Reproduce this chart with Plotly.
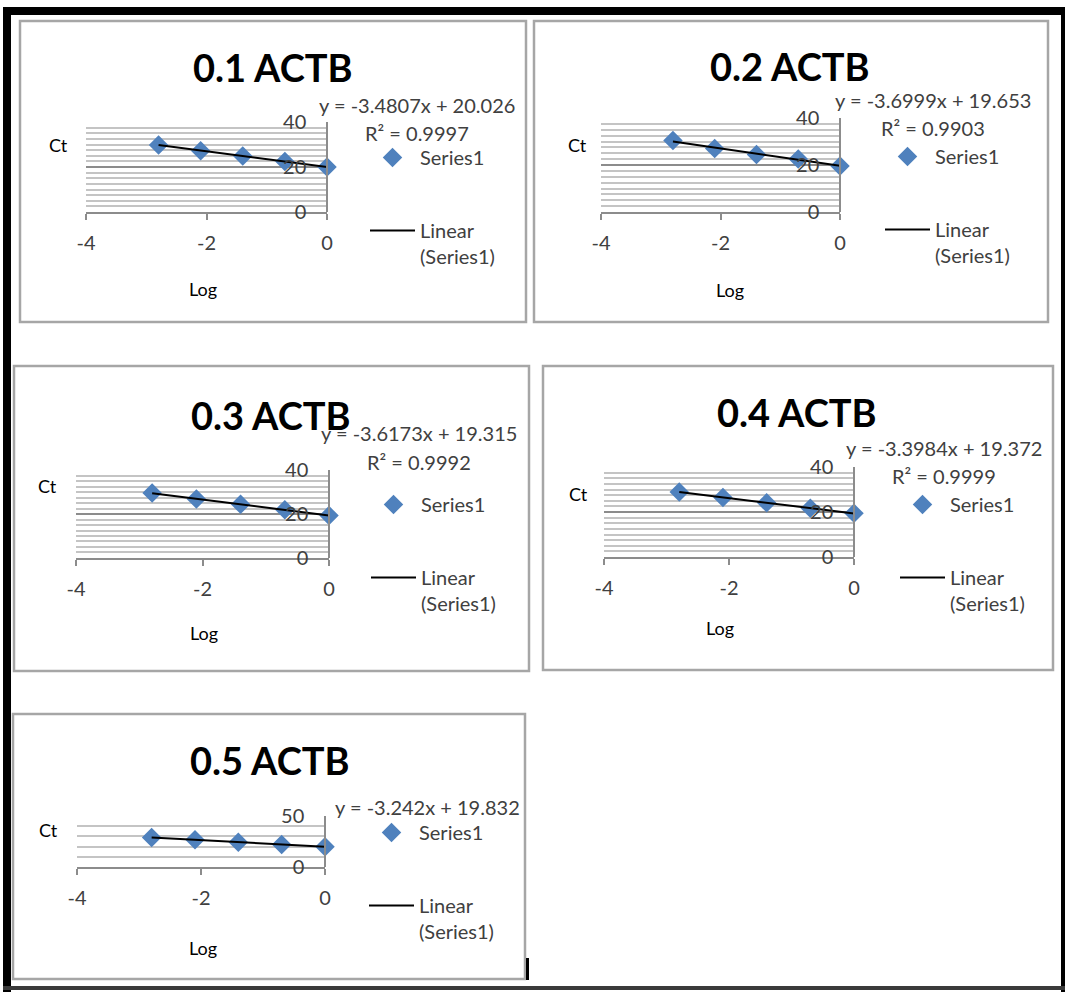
import plotly.graph_objects as go

W, H = 1065, 992

# ---------------- data ----------------
titles = ["0.1 ACTB", "0.2 ACTB", "0.3 ACTB", "0.4 ACTB", "0.5 ACTB"]
log_x = [-2.796, -2.097, -1.398, -0.699, 0.0]
ct_01 = [29.8, 27.2, 24.9, 22.4, 20.0]
ct_02 = [30.4, 27.0, 24.5, 22.6, 19.6]
ct_03 = [29.6, 26.8, 24.4, 21.9, 19.3]
ct_04 = [28.9, 26.5, 24.1, 21.7, 19.4]
ct_05 = [28.8, 26.7, 24.3, 22.1, 19.9]
slopes = [-3.4807, -3.6999, -3.6173, -3.3984, -3.242]
intercepts = [20.026, 19.653, 19.315, 19.372, 19.832]
r_squared = ["0.9997", "0.9903", "0.9992", "0.9999", None]
x_tickvals = [-4, -2, 0]
x_ticktext = ["-4", "-2", "0"]
y_max = [40, 40, 40, 40, 50]
y_major = [20, 20, 20, 20, 50]
y_minor = [2.5, 2.5, 2.5, 2.5, 10]
ct_all = [ct_01, ct_02, ct_03, ct_04, ct_05]

# ---------------- layout specs (pixels) ----------------
panels = [
    dict(box=(20, 21, 526, 322), plot=(86, 122, 327, 212), title=(273, 67),
         eq=(417, 105), r2=(417, 133), leg=(365, 138), ct=(58, 145), log=(203, 289)),
    dict(box=(534, 21, 1048, 322), plot=(601, 118, 840, 212), title=(790, 66),
         eq=(933, 100), r2=(933, 128), leg=(880, 137), ct=(577, 145), log=(730, 290)),
    dict(box=(14, 366, 529, 671), plot=(76, 470, 329, 558), title=(271, 415),
         eq=(419, 433), r2=(419, 462), leg=(366, 485), ct=(47, 486), log=(204, 633)),
    dict(box=(543, 366, 1053, 670), plot=(604, 467, 854, 557), title=(797, 412),
         eq=(944, 448), r2=(944, 476), leg=(895, 485), ct=(578, 494), log=(720, 628)),
    dict(box=(13, 714, 525, 979), plot=(77, 816, 325, 867), title=(270, 760),
         eq=(427, 807), r2=None, leg=(364, 813), ct=(48, 830), log=(203, 948)),
]

FONT = "Lato, 'Liberation Sans', Arial, sans-serif"
TXT = "#404040"
GRID_MAJOR = "#8c8c8c"
GRID_MINOR = "#c4c4c4"
BLUE = "#4F81BD"


def px(x):
    return x / W


def py(y):
    return 1 - y / H


fig = go.Figure()
annotations = []
shapes = []


def label(x, y, text, size, color=TXT):
    annotations.append(dict(x=px(x), y=py(y), xref="paper", yref="paper",
                            xanchor="center", yanchor="middle",
                            text=text, showarrow=False,
                            font=dict(family=FONT, size=size, color=color)))


for i, p in enumerate(panels):
    n = i + 1
    xa = "x" if n == 1 else f"x{n}"
    ya = "y" if n == 1 else f"y{n}"
    leg = "legend" if n == 1 else f"legend{n}"
    ct = ct_all[i]

    fig.add_trace(go.Scatter(
        x=log_x, y=ct, mode="markers", name="Series1",
        marker=dict(symbol="diamond", size=15, color=BLUE),
        xaxis=xa, yaxis=ya, legend=leg, legendgroup=f"s{n}",
        showlegend=True, cliponaxis=False))
    xs = [log_x[0], log_x[-1]]
    ys = [slopes[i] * v + intercepts[i] for v in xs]
    fig.add_trace(go.Scatter(
        x=xs, y=ys, mode="lines", name="Linear<br>(Series1)",
        line=dict(color="black", width=2),
        xaxis=xa, yaxis=ya, legend=leg, legendgroup=f"l{n}",
        showlegend=True))

    x0, y0, x1, y1 = p["plot"]
    xkey = "xaxis" if n == 1 else f"xaxis{n}"
    ykey = "yaxis" if n == 1 else f"yaxis{n}"
    fig.layout[xkey] = dict(
        domain=[px(x0), px(x1)], anchor=ya, range=[-4, 0],
        tickvals=x_tickvals, ticktext=x_ticktext,
        ticks="outside", ticklen=6, tickcolor=GRID_MAJOR,
        tickwidth=1.5, showline=True, linecolor=GRID_MAJOR, linewidth=1.5,
        showgrid=False, zeroline=False, ticklabelstandoff=6, automargin=False,
        tickfont=dict(family=FONT, size=20, color=TXT), fixedrange=True)
    ytop = y_max[i]
    fig.layout[ykey] = dict(
        domain=[py(y1), py(y0)], anchor="free", position=px(x1), side="left",
        range=[-ytop * 1e-4, ytop * (1 + 1e-4)],
        tickvals=[v for v in range(0, ytop + 1, y_major[i])],
        ticklabelposition="outside", ticklabelstandoff=16, automargin=False,
        showline=True, linecolor=GRID_MAJOR, linewidth=1.5,
        showgrid=True, gridcolor=GRID_MAJOR, gridwidth=1.5, zeroline=False,
        minor=dict(dtick=y_minor[i], tick0=0, showgrid=True,
                   gridcolor=GRID_MINOR, gridwidth=1.5),
        tickfont=dict(family=FONT, size=20, color=TXT), fixedrange=True)

    lx, ly = p["leg"]
    fig.layout[leg] = dict(
        x=px(lx), y=py(ly), xanchor="left", yanchor="top",
        bgcolor="rgba(0,0,0,0)", borderwidth=0, itemwidth=45,
        font=dict(family=FONT, size=20, color=TXT),
        traceorder="grouped", tracegroupgap=44, valign="top")

    label(*p["title"], f"<b>{titles[i]}</b>", 38, "black")
    label(*p["eq"], f"y = {slopes[i]}x + {intercepts[i]}", 20)
    if p["r2"] is not None and r_squared[i] is not None:
        label(*p["r2"], f"R² = {r_squared[i]}", 20)
    label(*p["ct"], "Ct", 18, "black")
    label(*p["log"], "Log", 18, "black")

    bx0, by0, bx1, by1 = p["box"]
    shapes.append(dict(type="rect", xref="paper", yref="paper",
                       x0=px(bx0), x1=px(bx1), y0=py(by1), y1=py(by0),
                       line=dict(color="#a6a6a6", width=2.5), fillcolor="rgba(0,0,0,0)"))

# outer frame
frame = [
    dict(x0=3, x1=1065, y0=7, y1=15, c="black"),
    dict(x0=3, x1=11, y0=7, y1=992, c="black"),
    dict(x0=1061, x1=1065, y0=7, y1=992, c="black"),
    dict(x0=3, x1=1065, y0=986, y1=990, c="#3a3a3a"),
    dict(x0=526, x1=529, y0=958, y1=980, c="black"),
]
for f in frame:
    shapes.append(dict(type="rect", xref="paper", yref="paper",
                       x0=px(f["x0"]), x1=px(f["x1"]), y0=py(f["y1"]), y1=py(f["y0"]),
                       line=dict(width=0), fillcolor=f["c"]))

fig.update_layout(
    width=W, height=H, margin=dict(l=0, r=0, t=0, b=0, autoexpand=False),
    paper_bgcolor="white", plot_bgcolor="rgba(0,0,0,0)",
    annotations=annotations, shapes=shapes,
    font=dict(family=FONT, color=TXT),
)

fig.write_html("out.html", config={"displayModeBar": False},
               post_script="document.body.style.margin='0px';")
